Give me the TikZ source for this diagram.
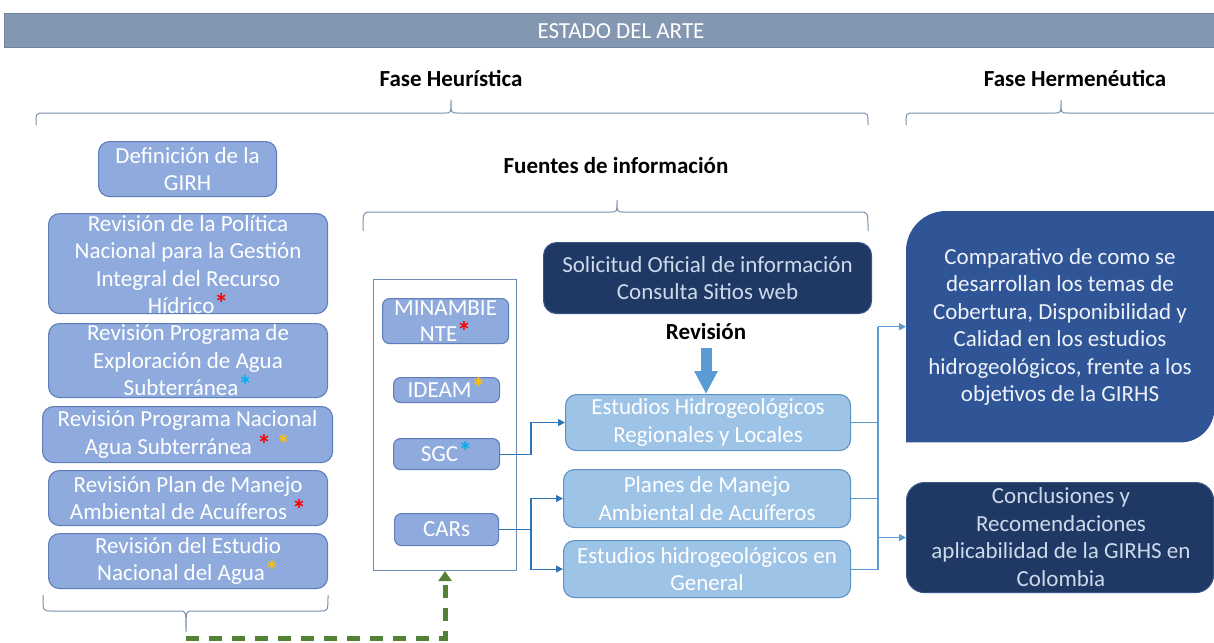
\documentclass[tikz,border=0pt]{standalone}
\usepackage{fontspec}
\setmainfont{Carlito}
\usetikzlibrary{arrows.meta}
\definecolor{hdrc}{RGB}{132,151,176}
\definecolor{hdrd}{RGB}{110,132,160}
\definecolor{lbfill}{RGB}{143,170,220}
\definecolor{lbdraw}{RGB}{95,125,185}
\definecolor{ltfill}{RGB}{157,195,230}
\definecolor{ltdraw}{RGB}{95,145,195}
\definecolor{navy}{RGB}{32,56,100}
\definecolor{navydraw}{RGB}{55,85,135}
\definecolor{cmpfill}{RGB}{47,85,151}
\definecolor{navytext}{RGB}{205,218,236}
\definecolor{bracec}{RGB}{120,145,175}
\definecolor{framec}{RGB}{110,140,175}
\definecolor{conA}{RGB}{46,117,182}
\definecolor{conB}{RGB}{91,155,213}
\definecolor{grn}{RGB}{84,130,53}
\definecolor{astR}{RGB}{255,0,0}
\definecolor{astB}{RGB}{0,176,240}
\definecolor{astO}{RGB}{255,192,0}
\newcommand{\myast}[1]{\smash{\textcolor{#1}{\fontsize{28}{27.5}\selectfont\textbf{*}}}}
\begin{document}
\begin{tikzpicture}[x=1pt,y=-1pt,
  lbox/.style={draw=lbdraw, fill=lbfill, line width=1.1pt, rounded corners=11pt, inner sep=0pt, anchor=north west},
  sbox/.style={draw=lbdraw, fill=lbfill, line width=1.1pt, rounded corners=7pt, inner sep=0pt, anchor=north west},
  ltbox/.style={draw=ltdraw, fill=ltfill, line width=1.1pt, rounded corners=11pt, inner sep=0pt, anchor=north west},
  nvbox/.style={draw=navydraw, fill=navy, line width=1.1pt, rounded corners=13pt, inner sep=0pt, anchor=north west},
  wtxt/.style={align=center, inner sep=0pt, text=white, font=\fontsize{23}{27.5}\selectfont},
  ntxt/.style={align=center, inner sep=0pt, text=navytext, font=\fontsize{23}{27.5}\selectfont},
  ttl/.style={inner sep=0pt, text=black, font=\fontsize{23}{27}\selectfont\bfseries},
  brc/.style={draw=bracec, line width=1pt},
  conone/.style={draw=conA, line width=1.1pt},
  contwo/.style={draw=conB, line width=1.1pt},
  smarrow/.style={-{Triangle[length=7pt,width=7pt]}},
]
\useasboundingbox (0,0) rectangle (1214,642);
\fill[white] (0,0) rectangle (1214,642);

% header
\node[fill=hdrc, draw=hdrd, line width=0.8pt, minimum width=1215pt, minimum height=34pt, anchor=north west, inner sep=0pt] (hdr) at (4,13) {};
\node[inner sep=0pt, text=white, font=\fontsize{23}{27}\selectfont] (hdrt) at (621,31) {ESTADO DEL ARTE};

% titles
\node[ttl] (heu) at (451,78) {Fase Heurística};
\node[ttl] (her) at (1075,78) {Fase Hermenéutica};
\node[ttl] (fue) at (616,166) {Fuentes de información};

% braces
\draw[brc] (36,125) .. controls (36,113) .. (44,113) -- (445,113) .. controls (451,113) .. (451,100) .. controls (451,113) .. (457,113) -- (860,113) .. controls (868,113) .. (868,125);
\draw[brc] (906,125) .. controls (906,113) .. (914,113) -- (1055,113) .. controls (1061,113) .. (1061,100) .. controls (1061,113) .. (1067,113) -- (1216,113);
\draw[brc] (363,231) .. controls (363,212) .. (371,212) -- (611,212) .. controls (617,212) .. (617,200) .. controls (617,212) .. (623,212) -- (860,212) .. controls (868,212) .. (868,231);
\draw[brc] (43,595) .. controls (43,611) .. (51,611) -- (180,611) .. controls (186,611) .. (186,632) .. controls (186,611) .. (192,611) -- (320,611) .. controls (328,611) .. (328,595);

% left column
\node[lbox, minimum width=178pt, minimum height=55pt] (b1) at (98,141) {};
\node[wtxt] (b1t) at (b1.center) {Definición de la\\GIRH};
\node[lbox, minimum width=279pt, minimum height=100pt] (b2) at (48,213) {};
\node[wtxt] (b2t) at ([yshift=-1pt]b2.center) {Revisión de la Política\\Nacional para la Gestión\\Integral del Recurso\\Hídrico\myast{astR}};
\node[lbox, minimum width=279pt, minimum height=74pt] (b3) at (48,323) {};
\node[wtxt] (b3t) at (b3.center) {Revisión Programa de\\Exploración de Agua\\Subterránea\myast{astB}};
\node[lbox, minimum width=290pt, minimum height=56pt] (b4) at (42,406) {};
\node[wtxt] (b4t) at (b4.center) {Revisión Programa Nacional\\Agua Subterránea \myast{astR} \myast{astO}};
\node[lbox, minimum width=279pt, minimum height=55pt] (b5) at (48,470) {};
\node[wtxt] (b5t) at (b5.center) {Revisión Plan de Manejo\\Ambiental de Acuíferos \myast{astR}};
\node[lbox, minimum width=279pt, minimum height=55pt] (b6) at (48,533) {};
\node[wtxt] (b6t) at (b6.center) {Revisión del Estudio\\Nacional del Agua\myast{astO}};

% middle frame
\node[draw=framec, fill=white, line width=1.1pt, minimum width=143pt, minimum height=291pt, anchor=north west, inner sep=0pt] (frame) at (373,279) {};
\node[sbox, minimum width=126pt, minimum height=45pt] (m1) at (382,298) {};
\node[wtxt, font=\fontsize{23}{26}\selectfont] (m1t) at (m1.center) {MINAMBIE\\NTE\myast{astR}};
\node[sbox, minimum width=106pt, minimum height=25pt] (m2) at (393,377) {};
\node[wtxt] (m2t) at (m2.center) {IDEAM\myast{astO}};
\node[sbox, minimum width=106pt, minimum height=31pt] (m3) at (393,438) {};
\node[wtxt] (m3t) at (m3.center) {SGC\myast{astB}};
\node[sbox, minimum width=104pt, minimum height=32pt] (m4) at (394,513) {};
\node[wtxt] (m4t) at (m4.center) {CARs};

% solicitud
\node[nvbox, minimum width=328pt, minimum height=71pt] (sol) at (543,242) {};
\node[ntxt] (solt) at (sol.center) {Solicitud Oficial de información\\Consulta Sitios web};
\node[ttl] (rev) at (706,332) {Revisión};

% light blue boxes
\node[ltbox, minimum width=285pt, minimum height=56pt] (estR) at (565,394) {};
\node[wtxt] (estRt) at (estR.center) {Estudios Hidrogeológicos\\Regionales y Locales};
\node[ltbox, minimum width=287pt, minimum height=58pt] (plan) at (563,469) {};
\node[wtxt] (plant) at (plan.center) {Planes de Manejo\\Ambiental de Acuíferos};
\node[ltbox, minimum width=287pt, minimum height=57pt] (gen) at (563,540) {};
\node[wtxt] (gent) at (gen.center) {Estudios hidrogeológicos en\\General};

% thick arrow
\draw[draw=conB, line width=11pt, -{Triangle[length=23pt,width=22pt]}] (706,348) -- (706,394);

% comparativo
\node[inner sep=0pt, minimum width=308pt, minimum height=231pt, anchor=north west] (cmp) at (906,211) {};
\fill[cmpfill] (cmp.south west) -- ([yshift=-40pt]cmp.north west) arc[start angle=180, end angle=90, radius=40pt] -- (cmp.north east) -- ([yshift=34pt]cmp.south east) arc[start angle=0, end angle=-90, radius=34pt] -- cycle;
\node[wtxt, text={rgb,255:red,238;green,242;blue,248}] (cmpt) at (1060,327) {Comparativo de como se\\desarrollan los temas de\\Cobertura, Disponibilidad y\\Calidad en los estudios\\hidrogeológicos, frente a los\\objetivos de la GIRHS};

% conclusiones
\node[nvbox, rounded corners=18pt, minimum width=307pt, minimum height=110pt] (conc) at (906,482) {};
\node[ntxt] (conct) at (1061,537) {Conclusiones y\\Recomendaciones\\aplicabilidad de la GIRHS en\\Colombia};

% connectors
\coordinate (j1) at (531,0);
\coordinate (j2) at (878,0);
\draw[conone, smarrow] (m3.east) -- (m3.east -| j1) |- (estR.west);
\draw[conone, smarrow] (m4.east) -- (m4.east -| j1) |- (plan.west);
\draw[conone, smarrow] (m4.east -| j1) |- (gen.west);
\draw[contwo] (estR.east) -- (estR.east -| j2);
\draw[contwo] (plan.east) -- (plan.east -| j2);
\draw[contwo] (gen.east) -- (gen.east -| j2) -- (cmp.west -| j2);
\draw[contwo, smarrow] (cmp.west -| j2) -- (cmp.west);
\draw[contwo, smarrow] (conc.west -| j2) -- (conc.west);

% green dashed
\coordinate (btip) at (186,638);
\draw[draw=grn, line width=5pt, dash pattern=on 13pt off 10pt, -{Triangle[length=10pt,width=13pt]}] (btip) -| (frame.south);
\end{tikzpicture}
\end{document}
